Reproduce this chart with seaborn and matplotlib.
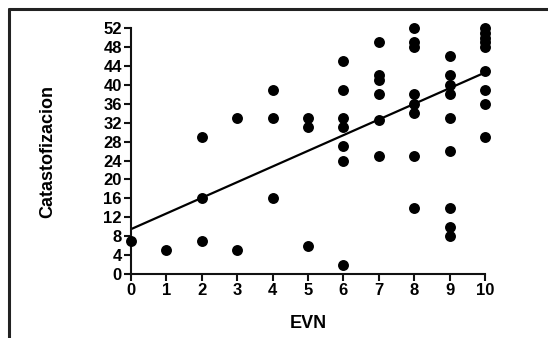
import matplotlib
matplotlib.use('Agg')
import matplotlib.pyplot as plt
import seaborn as sns
import pandas as pd
from matplotlib.lines import Line2D

# Data (EVN score vs Catastofizacion score)
evn = [0,
       1,
       2, 2, 2,
       3, 3,
       4, 4, 4,
       5, 5, 5,
       6, 6, 6, 6, 6, 6, 6,
       7, 7, 7, 7, 7, 7,
       8, 8, 8, 8, 8, 8, 8, 8,
       9, 9, 9, 9, 9, 9, 9, 9, 9,
       10, 10, 10, 10, 10, 10, 10, 10, 10]
catas = [7,
         5,
         29, 16, 7,
         33, 5,
         39, 33, 16,
         33, 31, 6,
         45, 39, 33, 31, 27, 24, 2,
         49, 42, 41, 38, 32.5, 25,
         52, 49, 48, 38, 36, 34, 25, 14,
         46, 42, 40, 38, 33, 26, 14, 10, 8,
         52, 51, 50, 49, 48, 43, 39, 36, 29]

# fitted line as shown in the figure
fit_x = [0, 10]
fit_y = [9.5, 42.6]

xticks = list(range(0, 11))
yticks = list(range(0, 53, 4))

df = pd.DataFrame({'EVN': evn, 'Catastofizacion': catas})
fit = pd.DataFrame({'x': fit_x, 'y': fit_y})

sns.set_style('white')
plt.rcParams['font.family'] = ['Liberation Sans', 'DejaVu Sans']
plt.rcParams['font.weight'] = 'bold'
plt.rcParams['text.color'] = 'black'
plt.rcParams['axes.labelcolor'] = 'black'
plt.rcParams['xtick.color'] = 'black'
plt.rcParams['ytick.color'] = 'black'

fig = plt.figure(figsize=(5.48, 3.38), dpi=100)
ax = fig.add_axes([0.239, 0.189, 0.646, 0.728])

sns.scatterplot(data=df, x='EVN', y='Catastofizacion', ax=ax, s=62, color='black',
                linewidth=0, clip_on=False, zorder=3)
sns.lineplot(data=fit, x='x', y='y', ax=ax, color='black', lw=1.6)

ax.set_xlim(0, 10)
ax.set_ylim(0, 52)
ax.set_xticks(xticks)
ax.set_yticks(yticks)
ax.tick_params(axis='both', direction='out', length=5, width=1.5, labelsize=12,
               color='#111111', labelcolor='black', pad=1.5, left=True, bottom=True)
for lab in ax.get_xticklabels() + ax.get_yticklabels():
    lab.set_fontweight('bold')
for side in ['top', 'right']:
    ax.spines[side].set_visible(False)
for side in ['left', 'bottom']:
    ax.spines[side].set_linewidth(1.5)
    ax.spines[side].set_color('#111111')

ax.set_xlabel('EVN', fontsize=13, fontweight='bold', labelpad=12, color='black')
ax.set_ylabel('Catastofizacion', fontsize=13, fontweight='bold', labelpad=34, color='black')

# frame lines around the figure (top and left)
fig.add_artist(Line2D([0.0164, 0.0164], [0, 0.973], transform=fig.transFigure,
                      color='#222222', lw=2.2))
fig.add_artist(Line2D([0.0164, 1.0], [0.973, 0.973], transform=fig.transFigure,
                      color='#222222', lw=2.2))

fig.savefig('out.png', dpi=100)
